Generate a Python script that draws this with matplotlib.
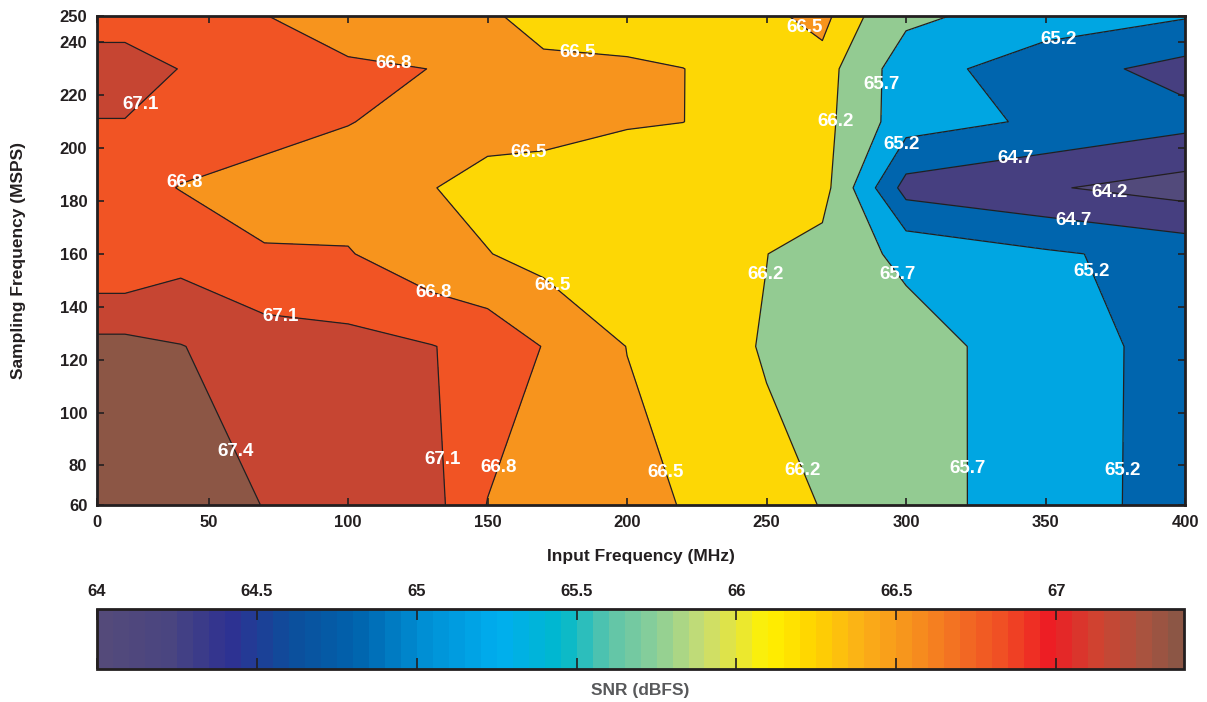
import numpy as np
import matplotlib
matplotlib.use("Agg")
from matplotlib import pyplot as plt
from matplotlib.colors import LinearSegmentedColormap, Normalize
from matplotlib.cm import ScalarMappable

plt.rcParams['font.family'] = ['Liberation Sans', 'DejaVu Sans']
plt.rcParams['font.weight'] = 'bold'
plt.rcParams['axes.labelweight'] = 'bold'

# measured grid (MHz x MSPS)
input_freq = [10, 20, 40, 70, 100, 130, 150, 170, 200, 220, 250, 270, 300, 350, 400]
sample_freq = [65, 125, 160, 185, 210, 230, 250]
snr = np.array([
    [67.60, 67.60, 67.50, 67.395, 67.30, 67.20, 66.79, 66.70, 66.58, 66.49, 66.30, 66.19, 65.90, 65.445, 65.00],
    [67.49, 67.49, 67.41, 67.25, 67.19, 67.11, 67.00, 66.79, 66.495, 66.40, 66.17, 66.10, 65.95, 65.38, 65.06],
    [66.81, 66.81, 66.99, 66.82, 66.82, 66.58, 66.51, 66.40, 66.35, 66.33, 66.205, 66.03, 65.57, 65.27, 65.018],
    [66.90, 66.90, 66.79, 66.70, 66.65, 66.51, 66.40, 66.38, 66.35, 66.33, 66.38, 66.39, 64.51, 64.25, 63.985],
    [67.09, 67.09, 66.95, 66.90, 66.81, 66.70, 66.61, 66.594, 66.52, 66.502, 66.40, 66.35, 65.42, 65.12, 64.85],
    [67.25, 67.25, 67.09, 66.92, 66.83, 66.798, 66.60, 66.53, 66.53, 66.502, 66.42, 66.395, 65.42, 64.92, 64.53],
    [66.95, 66.95, 66.90, 66.805, 66.70, 66.62, 66.52, 66.45, 66.40, 66.40, 66.44, 66.591, 65.809, 65.455, 65.24],
])

levels = [64.2, 64.7, 65.2, 65.7, 66.2, 66.5, 66.8, 67.1, 67.4]
fill_colors = ['#524a7b', '#463f80', '#0065ae', '#00a6e2', '#93cb92',
               '#fdd705', '#f7941d', '#f15424', '#c64532', '#8c5645']

xticks = [10, 50, 100, 150, 200, 250, 300, 350, 400]
xticklabels = ['0', '50', '100', '150', '200', '250', '300', '350', '400']
yticks = [65, 80, 100, 120, 140, 160, 180, 200, 220, 240, 250]
yticklabels = ['60', '80', '100', '120', '140', '160', '180', '200', '220', '240', '250']

cbar_ticks = [64, 64.5, 65, 65.5, 66, 66.5, 67]

# colorbar palette anchors (value, color)
cmap_anchors = [
    (64.0, '#544a7a'), (64.2, '#4a4580'), (64.4, '#2e3192'), (64.6, '#0b4f9c'),
    (64.8, '#0063ad'), (65.0, '#008dd2'), (65.25, '#00aeef'), (65.45, '#00b8cc'),
    (65.6, '#5cc4aa'), (65.75, '#8ccf98'), (65.9, '#c8dd72'), (66.0, '#e4e440'),
    (66.1, '#fff200'), (66.25, '#ffd400'), (66.4, '#fbb017'), (66.55, '#f7941d'),
    (66.7, '#f37022'), (66.85, '#f04e24'), (67.0, '#ed1c24'), (67.15, '#cf4330'),
    (67.3, '#a9533f'), (67.4, '#8c5645'),
]

# contour label spots
label_pos = [(24.7, 217.5), (116, 229.5), (182, 235), (264, 246), (294, 224),
             (355, 239), (274, 210), (165, 197), (42, 185.4), (300, 200.5),
             (339, 197), (373, 183), (360, 171.8), (251.4, 151.8), (295.5, 151),
             (366, 153), (76, 137), (130.5, 144.6), (172, 146.5), (57, 84),
             (133, 82), (152, 80), (213, 77), (262, 77.5), (321, 79), (376, 78)]

X, Y = np.meshgrid(input_freq, sample_freq)

fig = plt.figure(figsize=(12.07, 7.02), dpi=100)
ax = fig.add_axes([0.0804, 0.2806, 0.9014, 0.6966])

ax.contourf(X, Y, snr, levels=[63.0] + levels + [68.0], colors=fill_colors)
cs = ax.contour(X, Y, snr, levels=levels, colors='#231f20', linewidths=0.9)
texts = ax.clabel(cs, fmt='%.1f', inline=False, manual=label_pos,
                  colors='white', fontsize=13.5)
for t in texts:
    t.set_rotation(0)
    t.set_fontweight('bold')

ax.set_xlim(10, 400)
ax.set_ylim(65, 250)
ax.set_xticks(xticks)
ax.set_xticklabels(xticklabels)
ax.set_yticks(yticks)
ax.set_yticklabels(yticklabels)
ax.tick_params(direction='in', top=True, right=True, length=5, width=1.2,
               labelsize=12, colors='#231f20', pad=7)
for s in ax.spines.values():
    s.set_linewidth(2)
    s.set_color('#231f20')
ax.set_xlabel('Input Frequency (MHz)', fontsize=12.5, fontweight='bold',
              color='#231f20', labelpad=14)
ax.set_ylabel('Sampling Frequency (MSPS)', fontsize=12.5, fontweight='bold',
              color='#231f20', labelpad=24)

# colorbar
vmin, vmax = 64.0, 67.4
cmap = LinearSegmentedColormap.from_list(
    'snr', [((v - vmin) / (vmax - vmin), c) for v, c in cmap_anchors]).resampled(68)
cax = fig.add_axes([0.0804, 0.047, 0.9006, 0.0855])
cb = fig.colorbar(ScalarMappable(norm=Normalize(vmin, vmax), cmap=cmap),
                  cax=cax, orientation='horizontal', ticks=cbar_ticks)
cb.ax.set_xticklabels(['64', '64.5', '65', '65.5', '66', '66.5', '67'])
cax.tick_params(direction='in', top=True, bottom=True, labeltop=True,
                labelbottom=False, length=8, width=1.2, labelsize=12,
                colors='#231f20', pad=7)
cax.xaxis.set_label_position('bottom')
cax.set_xlabel('SNR (dBFS)', fontsize=12.5, fontweight='bold',
               color='#58595b', labelpad=10)
cb.outline.set_linewidth(2)
cb.outline.set_edgecolor('#231f20')

plt.savefig('out.png')
